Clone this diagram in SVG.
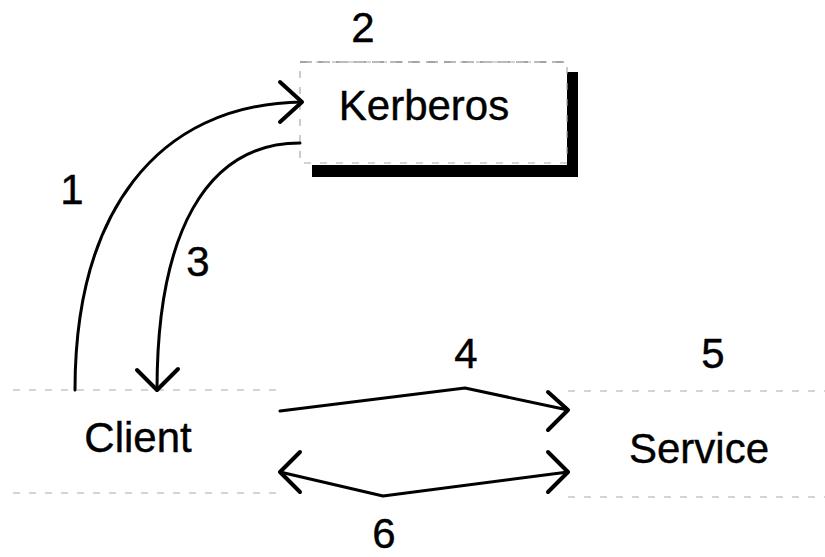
<svg xmlns="http://www.w3.org/2000/svg" width="825" height="557" viewBox="0 0 825 557">
<style>
.lbl{font-family:"Liberation Sans",Arial,sans-serif;font-size:42px;fill:#000;text-anchor:middle;stroke:#000;stroke-width:0.4}
.edge{fill:none;stroke:#000;stroke-width:3;stroke-linecap:round;stroke-linejoin:round}
.head{fill:none;stroke:#000;stroke-width:4;stroke-linecap:round;stroke-linejoin:round}
.frame{fill:none;stroke:#aaa;stroke-width:1.2;stroke-dasharray:7 9}
</style>
<rect width="825" height="557" fill="#fff"/>
<g id="kerberos">
<rect x="567" y="72" width="11" height="105" fill="#000"/>
<rect x="312" y="165" width="266" height="12" fill="#000"/>
<rect x="300" y="62" width="267" height="101" fill="#fff" class="frame"/>
<line x1="300" y1="62" x2="567" y2="62" stroke="#777" stroke-width="1.2" stroke-dasharray="12 6"/>
<text class="lbl" x="424" y="120">Kerberos</text>
</g>
<g id="client">
<line class="frame" x1="13" y1="390" x2="280" y2="390"/>
<line class="frame" x1="13" y1="493" x2="280" y2="493"/>
<text class="lbl" x="138" y="452">Client</text>
</g>
<g id="service">
<line class="frame" x1="568" y1="391" x2="825" y2="391"/>
<line class="frame" x1="568" y1="497" x2="825" y2="497"/>
<text class="lbl" x="699" y="463">Service</text>
</g>
<g id="connectors">
<path class="edge" d="M75,390 C75,215 155,104 302,102"/>
<path class="head" d="M280,82 L302,102 L280,122"/>
<path class="edge" d="M300,143 C205,143 157,235 157,390"/>
<path class="head" d="M137,370 L157,390 L178,369"/>
<path class="edge" d="M280,411 L465,388 L568,410"/>
<path class="head" d="M548,392 L568,410 L548,430"/>
<path class="edge" d="M280,472 L383,496 L568,472"/>
<path class="head" d="M300,452 L280,472 L300,492"/>
<path class="head" d="M548,452 L568,472 L548,492"/>
</g>
<g id="labels">
<text class="lbl" x="363" y="42">2</text>
<text class="lbl" x="72" y="204">1</text>
<text class="lbl" x="198" y="276">3</text>
<text class="lbl" x="466" y="368">4</text>
<text class="lbl" x="713" y="368">5</text>
<text class="lbl" x="384" y="548">6</text>
</g>
</svg>
